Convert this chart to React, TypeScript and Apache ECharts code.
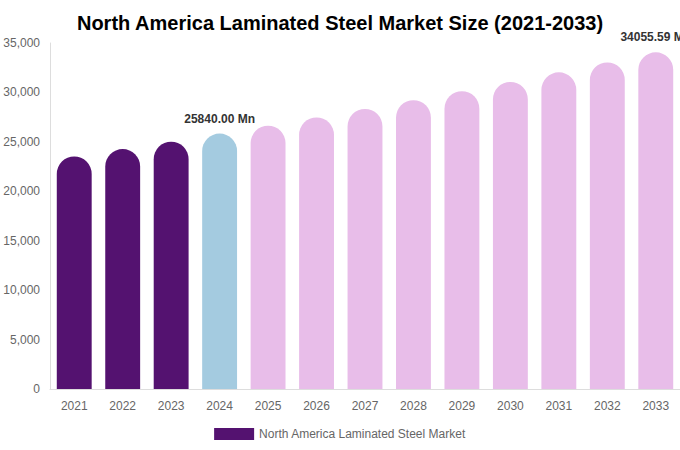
import React, { useEffect, useRef } from "react";
import * as echarts from "echarts";

const TITLE = "North America Laminated Steel Market Size (2021-2033)";
const SERIES_NAME = "North America Laminated Steel Market";
const years = ["2021", "2022", "2023", "2024", "2025", "2026", "2027", "2028", "2029", "2030", "2031", "2032", "2033"];
const values = [23520, 24270, 25010, 25840, 26640, 27470, 28330, 29210, 30120, 31060, 32030, 33030, 34055.59];
const barColors = [
  "#541270", "#541270", "#541270", "#a4cbe0",
  "#e8bde9", "#e8bde9", "#e8bde9", "#e8bde9", "#e8bde9",
  "#e8bde9", "#e8bde9", "#e8bde9", "#e8bde9",
];
const labeledYears = ["2024", "2033"];

export default function App() {
  const ref = useRef<HTMLDivElement>(null);
  useEffect(() => {
    document.body.style.margin = "0";
    const chart = echarts.init(ref.current!, undefined, { renderer: "svg" });
    const font = "'Liberation Sans', Arial, sans-serif";
    chart.setOption({
      animation: false,
      textStyle: { fontFamily: font },
      title: {
        text: TITLE,
        left: "center",
        top: 8,
        textStyle: { fontSize: 20, fontWeight: "bold", color: "#000", fontFamily: font },
      },
      legend: {
        bottom: 5,
        left: "center",
        icon: "rect",
        itemWidth: 40,
        itemHeight: 12,
        itemGap: 10,
        textStyle: { color: "#666", fontSize: 12, fontFamily: font },
        data: [{ name: SERIES_NAME, itemStyle: { color: "#541270" } }],
      },
      grid: { left: 50, right: 0, top: 43, bottom: 61, containLabel: false },
      xAxis: {
        type: "category",
        data: years,
        axisLine: { show: true, lineStyle: { color: "#ddd" } },
        axisTick: { show: false },
        axisLabel: { color: "#666", fontSize: 12, margin: 11, fontFamily: font },
      },
      yAxis: {
        type: "value",
        min: 0,
        max: 35000,
        interval: 5000,
        axisLine: { show: true, lineStyle: { color: "#ddd" } },
        axisTick: { show: false },
        splitLine: { show: false },
        axisLabel: {
          color: "#666",
          fontSize: 12,
          margin: 10,
          fontFamily: font,
          formatter: (v: number) => v.toLocaleString("en-US"),
        },
      },
      series: [
        {
          name: SERIES_NAME,
          type: "bar",
          barWidth: "72%",
          itemStyle: { color: "#541270" },
          data: values.map((v, i) => ({
            value: v,
            itemStyle: { color: barColors[i], borderRadius: [18, 18, 0, 0] },
            label: {
              show: labeledYears.includes(years[i]),
              position: "top",
              distance: 9,
              color: "#333",
              fontWeight: "bold",
              fontSize: 12,
              fontFamily: font,
              formatter: (p: any) => Number(p.value).toFixed(2) + " Mn",
            },
          })),
        },
      ],
    });
    return () => chart.dispose();
  }, []);
  return <div ref={ref} style={{ position: "absolute", left: 0, top: 0, width: 680, height: 450 }} />;
}
